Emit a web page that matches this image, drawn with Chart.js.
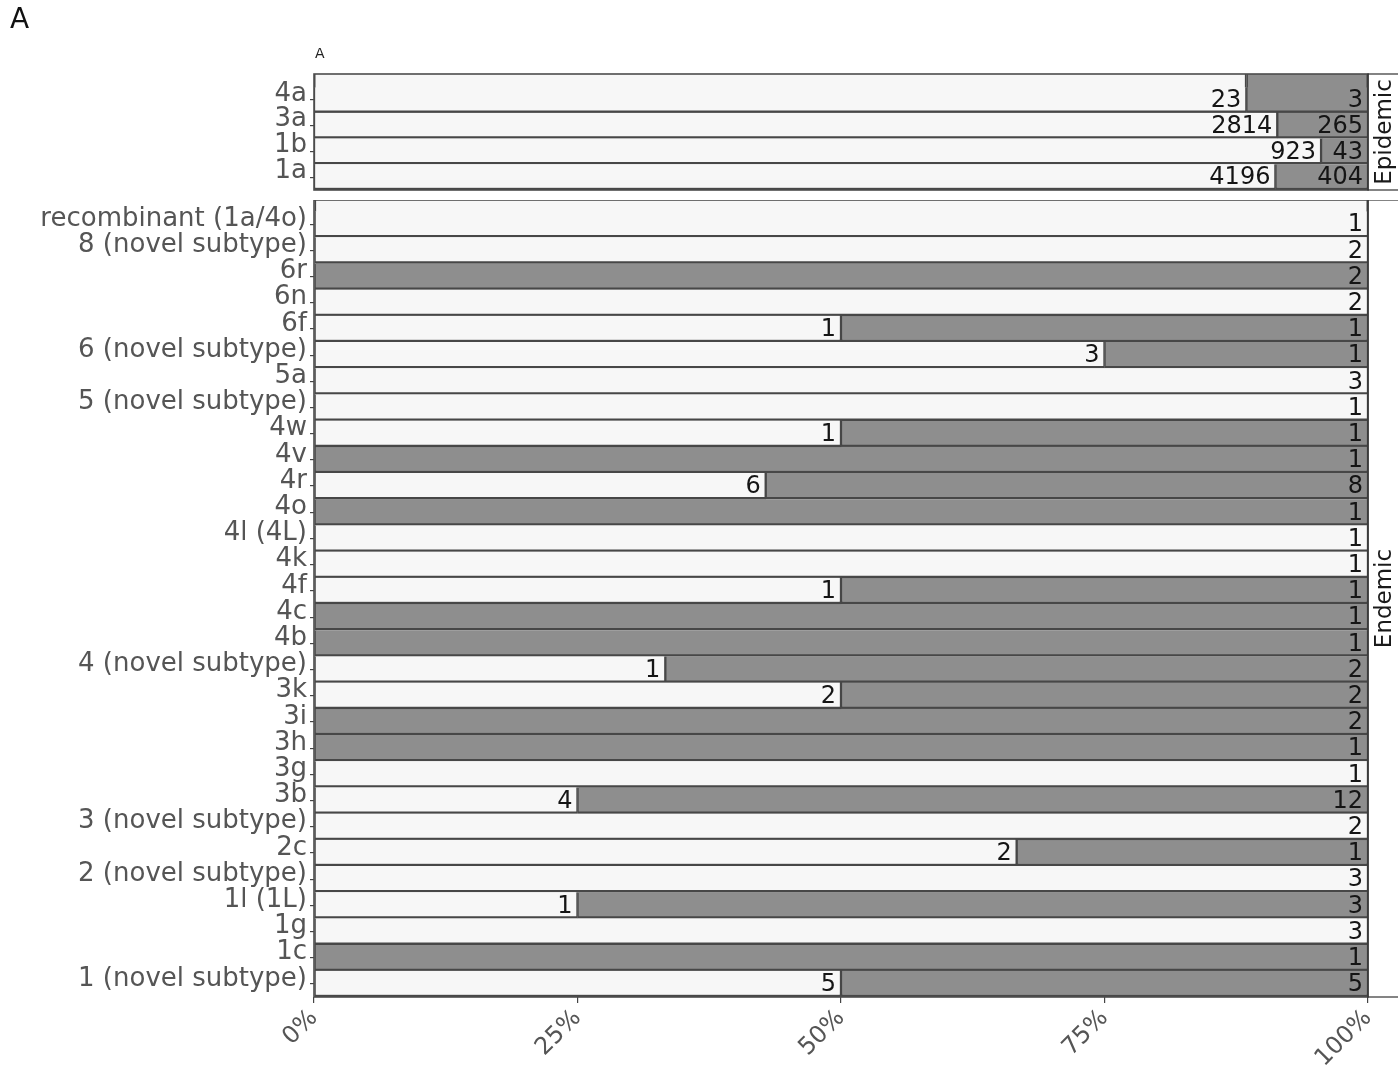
<!DOCTYPE html>
<html>
<head>
<meta charset="utf-8">
<script src="https://cdn.jsdelivr.net/npm/chart.js@4.4.0/dist/chart.umd.min.js"></script>
<style>
  html, body { margin: 0; padding: 0; background: #ffffff; }
  #wrap { position: relative; width: 1398px; height: 1065px; overflow: hidden; font-family: "DejaVu Sans", sans-serif; }
  #panelLetter { position: absolute; left: 10px; top: 2px; font-size: 28px; color: #111; z-index: 2; }
  #smallLetter { position: absolute; left: 315px; top: 45px; font-size: 14px; color: #222; z-index: 2; }
  #epidemicBox { position: absolute; left: 0; top: 0; width: 1398px; height: 200px; }
  #endemicBox { position: absolute; left: 0; top: 200px; width: 1398px; height: 865px; }
</style>
</head>
<body>
<div id="wrap">
  <div id="panelLetter">A</div>
  <div id="smallLetter">A</div>
  <div id="epidemicBox"><canvas id="epidemicChart"></canvas></div>
  <div id="endemicBox"><canvas id="endemicChart"></canvas></div>
</div>
<script>
// facet: Epidemic (top to bottom)
const EPIDEMIC_LABELS = ["4a", "3a", "1b", "1a"];
const EPIDEMIC_WHITE = [23, 2814, 923, 4196];
const EPIDEMIC_GREY = [3, 265, 43, 404];

// facet: Endemic (top to bottom)
const ENDEMIC_LABELS = [
  "recombinant (1a/4o)", "8 (novel subtype)", "6r", "6n", "6f",
  "6 (novel subtype)", "5a", "5 (novel subtype)", "4w", "4v",
  "4r", "4o", "4l (4L)", "4k", "4f",
  "4c", "4b", "4 (novel subtype)", "3k", "3i",
  "3h", "3g", "3b", "3 (novel subtype)", "2c",
  "2 (novel subtype)", "1l (1L)", "1g", "1c", "1 (novel subtype)",
];
const ENDEMIC_WHITE = [1, 2, 0, 2, 1, 3, 3, 1, 1, 0, 6, 0, 1, 1, 1, 0, 0, 1, 2, 0, 0, 1, 4, 2, 2, 3, 1, 3, 0, 5];
const ENDEMIC_GREY = [0, 0, 2, 0, 1, 1, 0, 0, 1, 1, 8, 1, 0, 0, 1, 1, 1, 2, 2, 2, 1, 0, 12, 0, 1, 0, 3, 0, 1, 5];

const X_TICKS = [0, 25, 50, 75, 100];

(function (document) {
  "use strict";

  const FONT = "DejaVu Sans";
  const WHITE_FILL = "#f7f7f7";
  const GREY_FILL = "#8e8e8e";
  const EDGE = "#474747";

  const toPct = (part, a, b) => part.map((v, i) => (a[i] + b[i] ? (v / (a[i] + b[i])) * 100 : 0));

  // panel border, right-hand strip and the count labels
  const facetPlugin = {
    id: "facet",
    afterDatasetsDraw: (chart) => {
      const { ctx, chartArea } = chart;
      const opts = chart.options.plugins.facet;
      const top = chartArea.top - opts.extraTop;
      const h = chartArea.bottom - top;
      ctx.save();

      // first row runs up to the panel border (as in the original figure)
      chart.data.datasets.forEach((ds, i) => {
        const bar = chart.getDatasetMeta(i).data[0];
        if (!bar || !ds.counts[0]) return;
        const props = bar.getProps(["x", "y", "base", "height"], true);
        const x0 = Math.min(props.base, props.x);
        const w = Math.abs(props.x - props.base);
        const barTop = props.y - props.height / 2;
        ctx.fillStyle = ds.backgroundColor;
        ctx.fillRect(x0, top, w, barTop - top + 0.5);
        ctx.fillStyle = EDGE;
        ctx.fillRect(x0, top, 1.5, barTop - top + 0.5);
        ctx.fillRect(x0 + w - 1.5, top, 1.5, barTop - top + 0.5);
      });

      ctx.font = `24px "${FONT}"`;
      ctx.fillStyle = "#151515";
      ctx.textAlign = "right";
      ctx.textBaseline = "middle";
      chart.data.datasets.forEach((ds, i) => {
        const meta = chart.getDatasetMeta(i);
        meta.data.forEach((bar, j) => {
          const count = ds.counts[j];
          if (!count) return;
          ctx.fillText(String(count), bar.x - 5, bar.y + 1);
        });
      });

      ctx.strokeStyle = "#4d4d4d";
      ctx.lineWidth = 1.6;
      ctx.strokeRect(chartArea.left, top, chartArea.right - chartArea.left, h);

      // strip
      ctx.fillStyle = "#ffffff";
      ctx.fillRect(chartArea.right + 1, top, 29, h);
      ctx.strokeStyle = "#333";
      ctx.lineWidth = 1.2;
      ctx.strokeRect(chartArea.right, top, 31, h);
      ctx.translate(chartArea.right + 16, top + h / 2);
      ctx.rotate(-Math.PI / 2);
      ctx.fillStyle = "#1a1a1a";
      ctx.textAlign = "center";
      ctx.font = `23px "${FONT}"`;
      ctx.fillText(opts.strip, 0, 1);
      ctx.restore();
    },
  };

  const makeChart = (canvasId, labels, white, grey, cfg) => {
    const ctx = document.getElementById(canvasId).getContext("2d");
    const barStyle = {
      borderColor: EDGE,
      borderWidth: { top: 0, bottom: 2.5, left: 1.5, right: 1.5 },
      borderSkipped: false,
      barPercentage: 1,
      categoryPercentage: 1,
    };
    return new Chart(ctx, {
      type: "bar",
      data: {
        labels: labels,
        datasets: [
          { data: toPct(white, white, grey), counts: white, backgroundColor: WHITE_FILL, ...barStyle },
          { data: toPct(grey, white, grey), counts: grey, backgroundColor: GREY_FILL, ...barStyle },
        ],
      },
      options: {
        indexAxis: "y",
        responsive: true,
        maintainAspectRatio: false,
        animation: false,
        layout: { padding: cfg.padding },
        plugins: {
          legend: { display: false },
          tooltip: { enabled: false },
          facet: { strip: cfg.strip, extraTop: cfg.extraTop },
        },
        scales: {
          x: {
            display: cfg.showX,
            stacked: true,
            min: 0,
            max: 100,
            afterBuildTicks: (scale) => {
              scale.ticks = X_TICKS.map((v) => ({ value: v }));
            },
            afterFit: (scale) => {
              scale.height = cfg.showX ? 68 : 0;
              scale.paddingLeft = 0;
              scale.paddingRight = 0;
            },
            ticks: {
              callback: (v) => v + "%",
              minRotation: 45,
              maxRotation: 45,
              padding: 1,
              color: "#555",
              font: { family: FONT, size: 24 },
            },
            grid: { drawOnChartArea: false, tickLength: 6, color: "#444", lineWidth: 1.2 },
            border: { display: false },
          },
          y: {
            stacked: true,
            afterFit: (scale) => {
              scale.width = 314;
              scale.paddingTop = 0;
              scale.paddingBottom = 0;
            },
            ticks: {
              autoSkip: false,
              color: "#555",
              padding: 3,
              labelOffset: cfg.labelOffset,
              font: { family: FONT, size: 26 },
            },
            grid: { drawOnChartArea: false, tickLength: 4, color: "#444", lineWidth: 1.2, offset: false },
            border: { display: false },
          },
        },
      },
      plugins: [facetPlugin],
    });
  };

  makeChart("epidemicChart", EPIDEMIC_LABELS, EPIDEMIC_WHITE, EPIDEMIC_GREY, {
    strip: "Epidemic",
    extraTop: 13,
    labelOffset: -6,
    showX: false,
    padding: { top: 87, bottom: 10, left: 0, right: 30 },
  });

  makeChart("endemicChart", ENDEMIC_LABELS, ENDEMIC_WHITE, ENDEMIC_GREY, {
    strip: "Endemic",
    extraTop: 11,
    labelOffset: -5,
    showX: true,
    padding: { top: 11, bottom: 0, left: 0, right: 30 },
  });
})(document);
</script>
</body>
</html>
